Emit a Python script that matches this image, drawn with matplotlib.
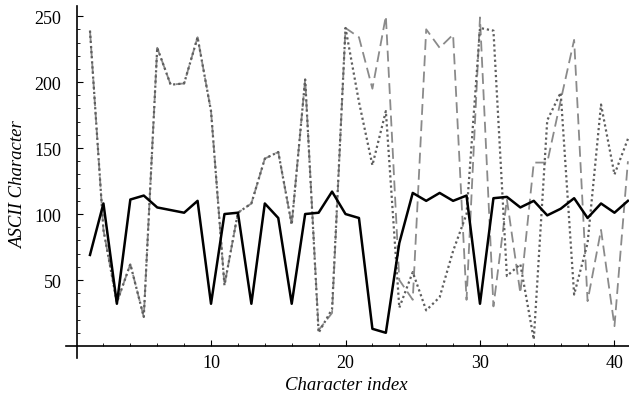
import numpy as np
import matplotlib.pyplot as plt

# character index
idx = np.arange(1, 42)

# plaintext ASCII codes (black solid)
plain = [69, 108, 32, 111, 114, 105, 103, 101, 110, 32,
         100, 101, 32, 108, 97, 32, 100, 101, 117, 100,
         97, 13, 10, 78, 116, 110, 116, 110, 114, 32,
         112, 113, 105, 110, 99, 104, 112, 97, 108, 101, 110]

# the two ciphertexts share the first 17 characters
shared = [239, 88, 33, 62, 22, 226, 198, 199, 234, 178,
          46, 101, 108, 142, 147, 92, 202]
dotted_tail = [10, 28, 241, 185, 137, 178, 29, 56, 27, 37, 72, 100,
               241, 239, 53, 62, 5, 171, 192, 39, 78, 183, 130, 157]
dashed_tail = [12, 25, 241, 234, 195, 250, 50, 35, 240, 226, 236, 35,
               249, 30, 111, 40, 139, 139, 186, 232, 34, 88, 15, 140]

cipher_dotted = shared + dotted_tail
cipher_dashed = shared + dashed_tail

plt.rcParams['font.family'] = ['Liberation Serif', 'DejaVu Serif']

fig = plt.figure(figsize=(6.29, 4.02), dpi=100)
ax = fig.add_axes([0.105, 0.107, 0.895, 0.876])

ax.plot(idx, cipher_dashed, color='#8a8a8a', lw=1.3, dashes=(6, 3))
ax.plot(idx, cipher_dotted, color='#5e5e5e', lw=1.6, dashes=(1, 1.3))
ax.plot(idx, plain, color='black', lw=1.8)

ax.set_xlim(-0.78, 41.08)
ax.set_ylim(-9.1, 257.8)

# axes crossing at the origin, Mathematica style
ax.spines['left'].set_position(('data', 0))
ax.spines['bottom'].set_position(('data', 0))
ax.spines['top'].set_visible(False)
ax.spines['right'].set_visible(False)
for s in ['left', 'bottom']:
    ax.spines[s].set_linewidth(1.2)

ax.set_xticks([10, 20, 30, 40])
ax.set_xticks(np.arange(2, 41, 2), minor=True)
ax.set_yticks([50, 100, 150, 200, 250])
ax.set_yticks(np.arange(10, 251, 10), minor=True)
ax.tick_params(which='major', direction='in', length=4.5, width=0.8, labelsize=13)
ax.tick_params(which='minor', direction='in', length=2.5, width=0.6)
ax.tick_params(axis='x', pad=6)
ax.tick_params(axis='y', pad=11)

fig.text(0.55, 0.02, 'Character index', ha='center', va='bottom',
         fontsize=13.5, style='italic')
fig.text(0.03, 0.54, 'ASCII Character', ha='center', va='center',
         rotation=90, fontsize=13.5, style='italic')

fig.savefig('out.png', dpi=100)
